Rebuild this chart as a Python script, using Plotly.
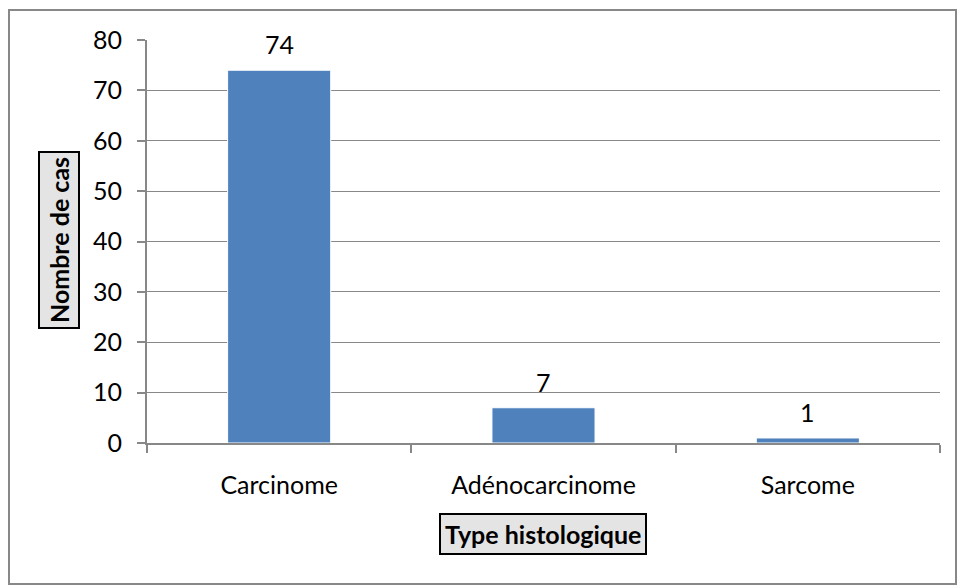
import plotly.graph_objects as go

categories = ["Carcinome", "Adénocarcinome", "Sarcome"]
values = [74, 7, 1]
y_ticks = [0, 10, 20, 30, 40, 50, 60, 70, 80]

W, H = 957, 585
L, R, T, B = 147, 940, 40, 443
pw, ph = R - L, B - T

def px(x):
    return (x - L) / pw

def py(y):
    return (B - y) / ph

FONT = "Lato, 'Open Sans', sans-serif"
FS = 25

fig = go.Figure()
fig.add_trace(go.Bar(
    x=categories, y=values, width=0.39,
    marker=dict(color="#4F81BD", line=dict(color="#ffffff", width=1)),
    hoverinfo="x+y",
))

for c, v in zip(categories, values):
    fig.add_annotation(x=c, y=v, text=str(v), showarrow=False,
                       yanchor="middle", yshift=26,
                       font=dict(family=FONT, size=FS, color="#000000"))

# axis title boxes
fig.add_annotation(x=px(59), y=py(240), xref="paper", yref="paper",
                   xanchor="center", yanchor="middle",
                   text="<b>Nombre de cas</b>", textangle=-90, showarrow=False,
                   font=dict(family=FONT, size=25, color="#000000"),
                   bgcolor="#e4e4e4", bordercolor="#000000", borderwidth=2, borderpad=4)
fig.add_annotation(x=px(543), y=py(534), xref="paper", yref="paper",
                   xanchor="center", yanchor="middle",
                   text="<b>Type histologique</b>", showarrow=False,
                   font=dict(family=FONT, size=25, color="#000000"),
                   bgcolor="#e4e4e4", bordercolor="#000000", borderwidth=2, borderpad=4)

# outer chart border
fig.add_shape(type="rect", xref="paper", yref="paper",
              x0=px(9), x1=px(956), y0=py(584), y1=py(10),
              line=dict(color="#888888", width=2), layer="below")

fig.update_layout(
    width=W, height=H,
    margin=dict(l=L, r=W - R, t=T, b=H - B),
    paper_bgcolor="#ffffff", plot_bgcolor="#ffffff",
    showlegend=False,
    font=dict(family=FONT, size=FS, color="#000000"),
)
fig.update_xaxes(
    type="category", tickson="boundaries", ticks="outside", ticklen=8,
    tickcolor="#888888", tickwidth=2, showline=True, linecolor="#888888", linewidth=2,
    showgrid=False, ticklabelstandoff=19, tickfont=dict(family=FONT, size=FS),
)
fig.update_yaxes(
    range=[0, 80], tickvals=y_ticks, ticks="outside", ticklen=8,
    tickcolor="#888888", tickwidth=2, showline=True, linecolor="#888888", linewidth=2,
    showgrid=True, gridcolor="#888888", gridwidth=1, zeroline=False,
    ticklabelstandoff=10, tickfont=dict(family=FONT, size=FS),
)

fig.write_html("out.html", config={"displayModeBar": False},
               post_script="document.body.style.margin='0px';document.body.style.overflow='hidden';")
